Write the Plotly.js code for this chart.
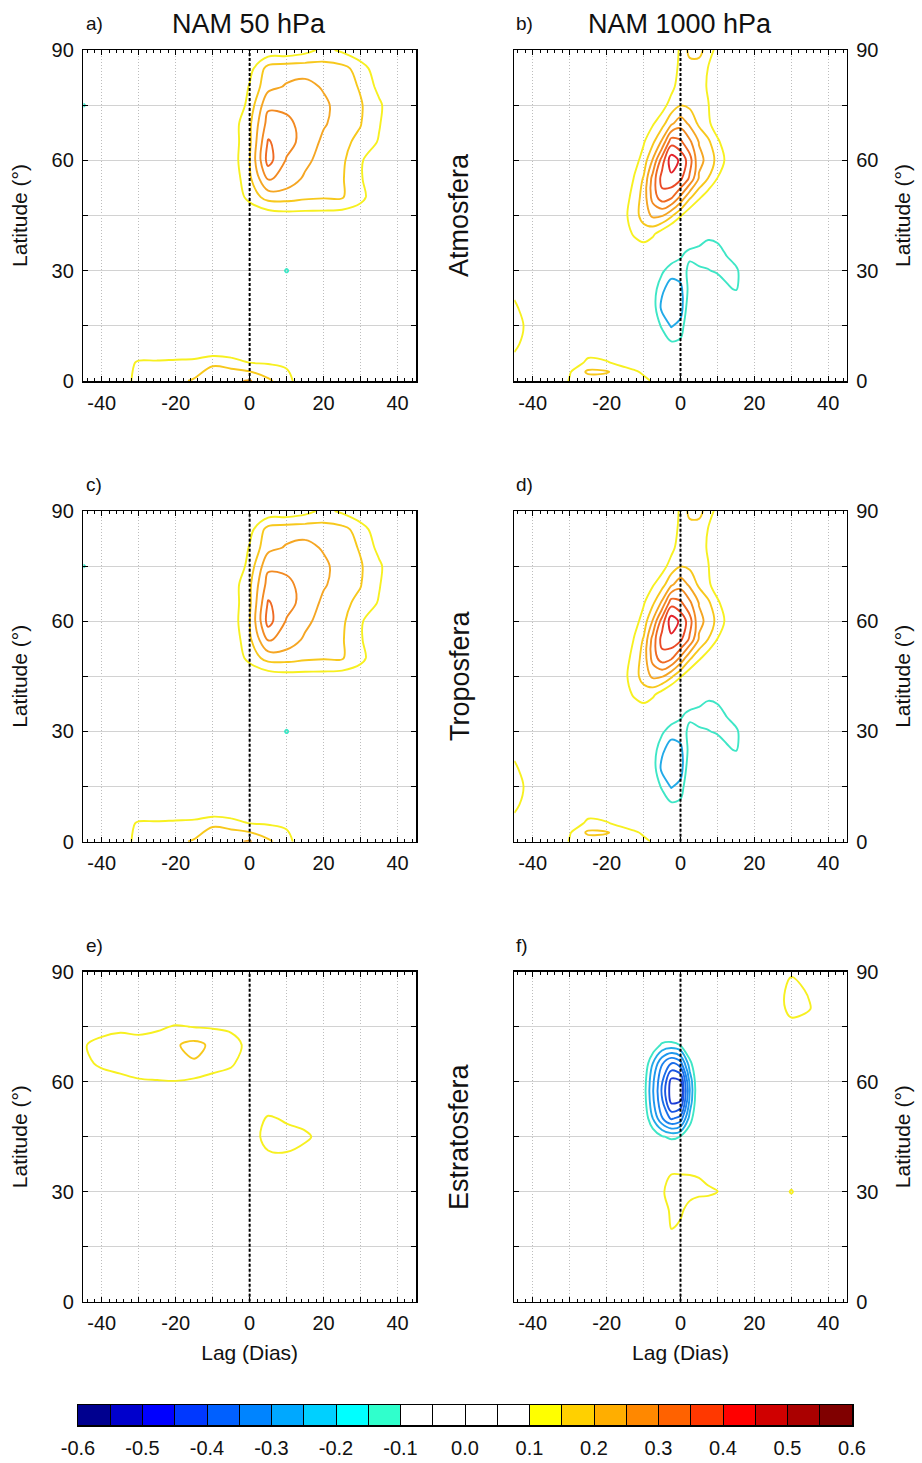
<!DOCTYPE html>
<html><head><meta charset="utf-8">
<script src="https://cdn.plot.ly/plotly-3.0.1.min.js"></script>
<style>html,body{margin:0;padding:0;background:#fff;}#chart{width:922px;height:1463px;}</style>
</head><body><div id="chart"></div>
<script>
// ---------------- grid coordinates ----------------
const lagA = [-45,-40,-35,-30,-25,-20,-15,-10,-5,0,5,10,15,20,25,30,35,40,45];
const latA = [0,5,10,15,20,25,30,35,40,45,50,55,60,65,70,75,80,85,90];
const lagB = [-45,-40,-35,-30,-25,-20,-15,-12.5,-10,-7.5,-5,-2.5,0,2.5,5,7.5,10,12.5,15,20,25,30,35,40,45];
const latB = [0,2.5,5,10,15,20,25,30,35,40,45,50,55,60,65,70,75,80,85,90];

// ---------------- correlation fields (rows = latitude, cols = lag) ----------------
// a) NAM 50 hPa vs Atmosfera   (lagA x latA)
const namAtmos50 = [
 [0.02,0.04,0.07,0.12,0.13,0.14,0.155,0.17,0.19,0.205,0.16,0.12,0.06,0.02,0,0,0,0,0],
 [0.01,0.02,0.06,0.11,0.11,0.115,0.12,0.145,0.13,0.10,0.095,0.09,0.04,0.01,0,0,0,0,0],
 [0,0,0.01,0.02,0.02,0.02,0.02,0.02,0.02,0.02,0.02,0.01,0,0,0,0,0,0,0],
 [0,0,0,0,0,0,0,0,0,0,0,0,0,0,0,0,0,0,0],
 [0,0,0,0,0,0,0,0,0,0,0,0,0,0,0,0,0,0,0],
 [0,0,0,0,0,0,0,0,0,0,0,0,0,0,0,0,0,0,0],
 [0,0,0,0,0,0,0,0,0,0,0,-0.11,0,0,0,0,0,0,0],
 [0,0,0,0,0,0,0,0,0,0,0,0,0,0,0,0,0,0,0],
 [0,0,0,0,0,0,0,0,0,0,0,0,0,0,0,0,0,0,0],
 [0,0,0,0,0,0,0,0,0.02,0.05,0.07,0.08,0.08,0.08,0.075,0.06,0.03,0.01,0],
 [0,0,0,0,0.01,0.01,0.02,0.03,0.05,0.12,0.17,0.17,0.16,0.155,0.155,0.12,0.05,0.02,0],
 [0,0,0,0,0.01,0.02,0.03,0.04,0.06,0.14,0.255,0.235,0.19,0.16,0.155,0.105,0.06,0.03,0.01],
 [0,0,0,0,0.01,0.02,0.03,0.04,0.07,0.148,0.32,0.245,0.215,0.175,0.16,0.105,0.07,0.03,0.01],
 [0,0,0,0,0.01,0.02,0.03,0.04,0.07,0.14,0.305,0.27,0.23,0.19,0.16,0.14,0.095,0.04,0.02],
 [0,0,0,0,0.01,0.02,0.03,0.04,0.07,0.14,0.27,0.26,0.235,0.205,0.18,0.152,0.105,0.04,0.02],
 [-0.11,0,0,0,0.01,0.01,0.02,0.03,0.04,0.12,0.24,0.24,0.23,0.21,0.18,0.155,0.11,0.05,0.02],
 [0,0,0,0,0,0.01,0.01,0.02,0.03,0.105,0.185,0.205,0.215,0.195,0.175,0.145,0.085,0.04,0.01],
 [0,0,0,0,0,0,0.01,0.01,0.02,0.08,0.17,0.18,0.18,0.17,0.165,0.13,0.06,0.02,0],
 [0,0,0,0,0,0,0,0,0.01,0.03,0.06,0.06,0.08,0.115,0.09,0.05,0.02,0,0]
];
// b) NAM 1000 hPa vs Atmosfera   (lagB x latB)
const namAtmos1000 = [
 [0.06,0.03,0.04,0.105,0.12,0.12,0.12,0.12,0.115,0.095,0.06,0.03,0.01,0,0,0,0,0,0,0,0,0,0,0,0],
 [0.07,0.03,0.04,0.095,0.16,0.155,0.12,0.11,0.09,0.06,0.03,0.01,0,0,0,0,0,0,0,0,0,0,0,0,0],
 [0.08,0.03,0.02,0.07,0.11,0.105,0.08,0.06,0.04,0.02,-0.01,-0.03,-0.03,-0.01,0,0,0,0,0,0,0,0,0,0,0],
 [0.115,0.06,0.02,0.03,0.07,0.05,0.02,0.01,0,-0.02,-0.05,-0.09,-0.085,-0.03,-0.01,0,0,0,0,0,0,0,0,0,0],
 [0.13,0.07,0.02,0.01,0.02,0.01,0,-0.01,-0.02,-0.05,-0.11,-0.155,-0.13,-0.04,-0.02,-0.01,0,0,0,0,0,0,0,0,0],
 [0.11,0.06,0.02,0,0,0,0,-0.01,-0.03,-0.07,-0.165,-0.19,-0.18,-0.05,-0.05,-0.04,-0.04,-0.04,-0.05,-0.01,0,0,0,0,0],
 [0.085,0.04,0.01,0,0,0,0,-0.01,-0.02,-0.07,-0.14,-0.175,-0.165,-0.08,-0.07,-0.07,-0.075,-0.09,-0.105,-0.02,0,0,0,0,0],
 [0.04,0.02,0,0,0,0,0,0,0,-0.04,-0.09,-0.13,-0.12,-0.09,-0.095,-0.098,-0.105,-0.12,-0.11,-0.03,0,0,0,0,0],
 [0.01,0,0,0,0,0,0.03,0.05,0.07,0.05,0.02,-0.05,-0.09,-0.11,-0.115,-0.12,-0.115,-0.095,-0.07,-0.02,0,0,0,0,0],
 [0,0,0,0,0,0.02,0.07,0.11,0.125,0.11,0.07,0.03,0.01,-0.05,-0.07,-0.09,-0.085,-0.06,-0.03,0,0,0,0,0,0],
 [0,0,0,0,0.01,0.03,0.09,0.13,0.17,0.21,0.205,0.16,0.105,0.06,0.03,0.01,0,0,0,0,0,0,0,0,0],
 [0,0,0,0,0.01,0.02,0.08,0.12,0.17,0.27,0.33,0.31,0.24,0.16,0.11,0.07,0.04,0.02,0,0,0,0,0,0,0],
 [0,0,0,0,0.01,0.02,0.05,0.105,0.155,0.27,0.37,0.385,0.36,0.29,0.195,0.148,0.098,0.07,0.04,0.02,0,0,0,0,0],
 [0,0,0,0,0.01,0.02,0.05,0.08,0.12,0.205,0.325,0.43,0.39,0.323,0.21,0.19,0.13,0.09,0.05,0.02,0.01,0,0,0,0],
 [0,0,0,0,0,0.01,0.02,0.04,0.095,0.14,0.21,0.33,0.31,0.26,0.198,0.16,0.11,0.07,0.04,0.02,0,0,0,0,0],
 [0,0,0,0,0,0,0.01,0.02,0.05,0.095,0.13,0.19,0.23,0.19,0.14,0.11,0.07,0.04,0.02,0.01,0,0,0,0,0],
 [0,0,0,0,0,0,0,0.01,0.02,0.04,0.08,0.12,0.148,0.14,0.12,0.102,0.07,0.03,0.01,0,0,0,0,0,0],
 [0,0,0,0,0,0,0,0,0.01,0.02,0.05,0.085,0.125,0.13,0.12,0.095,0.06,0.03,0.01,0,0,0,0,0,0],
 [0,0,0,0,0,0,0,0,0,0.01,0.03,0.07,0.115,0.13,0.13,0.098,0.05,0.02,0,0,0,0,0,0,0],
 [0,0,0,0,0,0,0,0,0,0.01,0.02,0.06,0.11,0.165,0.165,0.13,0.08,0.04,0.01,0,0,0,0,0,0]
];
// c) and d) Troposfera: practically the same patterns as the full atmosphere
const namTropo50 = namAtmos50.map(r => r.slice());
const namTropo1000 = namAtmos1000.map(r => r.slice());
// e) NAM 50 hPa vs Estratosfera   (lagA x latA)
const namStrato50 = [
 [0,0,0,0,0,0,0,0,0,0,0,0,0,0,0,0,0,0,0],
 [0,0,0,0,0,0,0,0,0,0,0,0,0,0,0,0,0,0,0],
 [0,0,0,0,0,0,0,0,0,0,0,0,0,0,0,0,0,0,0],
 [0,0,0,0,0,0,0,0,0,0,0,0,0,0,0,0,0,0,0],
 [0,0,0,0,0,0,0,0,0,0,0,0,0,0,0,0,0,0,0],
 [0,0,0,0,0,0,0,0,0,0,0,0,0,0,0,0,0,0,0],
 [0,0,0,0,0,0,0,0,0,0,0,0,0,0,0,0,0,0,0],
 [0,0,0,0,0,0,0,0,0,0,0.03,0.04,0.02,0,0,0,0,0,0],
 [0,0,0,0,0,0,0,0,0,0.03,0.09,0.095,0.06,0.02,0,0,0,0,0],
 [0,0,0,0,0,0,0,0,0.02,0.06,0.13,0.125,0.12,0.06,0.02,0,0,0,0],
 [0,0,0,0,0,0,0,0,0.03,0.05,0.11,0.09,0.06,0.03,0,0,0,0,0],
 [0.01,0.02,0.03,0.04,0.04,0.04,0.04,0.03,0.03,0.02,0.04,0.03,0.01,0,0,0,0,0,0],
 [0.03,0.06,0.08,0.095,0.097,0.098,0.09,0.07,0.065,0.03,0.01,0,0,0,0,0,0,0,0],
 [0.08,0.115,0.125,0.125,0.13,0.14,0.145,0.135,0.11,0.06,0.02,0,0,0,0,0,0,0,0],
 [0.095,0.12,0.13,0.125,0.13,0.145,0.165,0.14,0.12,0.085,0.03,0,0,0,0,0,0,0,0],
 [0.04,0.075,0.085,0.08,0.09,0.105,0.098,0.095,0.09,0.05,0.01,0,0,0,0,0,0,0,0],
 [0.01,0.02,0.03,0.03,0.03,0.04,0.03,0.03,0.02,0.01,0,0,0,0,0,0,0,0,0],
 [0,0,0,0,0,0,0,0,0,0,0,0,0,0,0,0,0,0,0],
 [0,0,0,0,0,0,0,0,0,0,0,0,0,0,0,0,0,0,0]
];
// f) NAM 1000 hPa vs Estratosfera   (lagB x latA)
const namStrato1000 = [
 [0,0,0,0,0,0,0,0,0,0,0,0,0,0,0,0,0,0,0,0,0,0,0,0,0],
 [0,0,0,0,0,0,0,0,0,0,0,0,0,0,0,0,0,0,0,0,0,0,0,0,0],
 [0,0,0,0,0,0,0,0,0,0,0,0,0,0,0,0,0,0,0,0,0,0,0,0,0],
 [0,0,0,0,0,0,0,0,0,0,0.02,0.04,0.03,0.01,0,0,0,0,0,0,0,0,0,0,0],
 [0,0,0,0,0,0,0,0,0,0.01,0.05,0.102,0.09,0.05,0.03,0.02,0,0,0,0,0,0,0,0,0],
 [0,0,0,0,0,0,0,0,0,0.02,0.06,0.115,0.11,0.08,0.06,0.05,0.04,0.02,0,0,0,0.03,0,0,0],
 [0,0,0,0,0,0,0,0,0,0.03,0.09,0.13,0.13,0.12,0.115,0.115,0.105,0.05,0.02,0,0.02,0.108,0.02,0,0],
 [0,0,0,0,0,0,0,0,0,0.03,0.08,0.098,0.098,0.098,0.095,0.07,0.04,0.02,0,0,0,0.03,0,0,0],
 [0,0,0,0,0,0,0,0,0,-0.01,-0.02,-0.026,-0.02,-0.01,0,0,0,0,0,0,0,0,0,0,0],
 [0,0,0,0,0,0,0,0,-0.02,-0.06,-0.095,-0.112,-0.098,-0.05,-0.01,0,0,0,0,0,0,0,0,0,0],
 [0,0,0,0,0,0,0,0,-0.05,-0.15,-0.245,-0.309,-0.28,-0.13,-0.02,0,0,0,0,0,0,0,0,0,0],
 [0,0,0,0,0,0,0,-0.02,-0.07,-0.19,-0.295,-0.42,-0.41,-0.19,-0.03,0,0,0,0,0,0,0,0,0,0],
 [0,0,0,0,0,0,0,-0.02,-0.07,-0.19,-0.295,-0.42,-0.41,-0.19,-0.03,0,0,0,0,0,0,0,0,0,0],
 [0,0,0,0,0,0,0,0,-0.05,-0.15,-0.245,-0.305,-0.27,-0.12,-0.02,0,0,0,0,0,0,0,0,0,0],
 [0,0,0,0,0,0,0,0,-0.02,-0.06,-0.11,-0.12,-0.098,-0.03,0,0,0,0,0,0,0,0,0,0,0],
 [0,0,0,0,0,0,0,0,0,0,-0.01,0,0,0,0,0,0,0,0,0,0,0.07,0.05,0,0],
 [0,0,0,0,0,0,0,0,0,0,0,0,0,0,0,0,0,0,0,0,0.04,0.13,0.105,0.02,0],
 [0,0,0,0,0,0,0,0,0,0,0,0,0,0,0,0,0,0,0,0,0.05,0.125,0.09,0.02,0],
 [0,0,0,0,0,0,0,0,0,0,0,0,0,0,0,0,0,0,0,0,0.03,0.09,0.05,0,0]
];

// ---------------- contour levels / colour table ----------------
const levelValues = [-0.4,-0.35,-0.3,-0.25,-0.2,-0.15,-0.1,0.1,0.15,0.2,0.25,0.3,0.35,0.4];
const levelColors = ['#1c3ed6','#1a56e2','#1a6eea','#1c84ee','#1e98ee','#22aae8','#3ee6c6',
                     '#f7f020','#f7c81c','#f5a623','#f28a22','#ef6a24','#ea4a26','#e3232b'];
const cbEdges = [-0.6,-0.55,-0.5,-0.45,-0.4,-0.35,-0.3,-0.25,-0.2,-0.15,-0.1,-0.05,0,0.05,0.1,0.15,0.2,0.25,0.3,0.35,0.4,0.45,0.5,0.55,0.6];
const cbColors = ['#00008f','#0000cc','#0000ff','#0038ff','#0060ff','#0084ff','#00a8ff','#00d0ff','#00ffff','#30ffcc',
                  '#ffffff','#ffffff','#ffffff','#ffffff',
                  '#ffff00','#ffd000','#ffae00','#ff8800','#ff6200','#ff3800','#ff0000','#d00000','#aa0000','#800000'];
const lagTicks = [-40,-30,-20,-10,0,10,20,30,40];
const lagTickText = ['-40','','-20','','0','','20','','40'];
const latTicks = [0,15,30,45,60,75,90];
const latTickText = ['0','','30','','60','','90'];
const zeroLag = [0,0];
const latSpan = [0,90];

const panels = [
  {x: lagA, y: latA, z: namAtmos50,   xa: 'x',  ya: 'y'},
  {x: lagB, y: latB, z: namAtmos1000, xa: 'x2', ya: 'y2'},
  {x: lagA, y: latA, z: namTropo50,   xa: 'x3', ya: 'y3'},
  {x: lagB, y: latB, z: namTropo1000, xa: 'x4', ya: 'y4'},
  {x: lagA, y: latA, z: namStrato50,  xa: 'x5', ya: 'y5'},
  {x: lagB, y: latA, z: namStrato1000,xa: 'x6', ya: 'y6'}
];

const traces = [];
panels.forEach(p => {
  levelValues.forEach((lv, i) => {
    traces.push({
      type: 'contour', x: p.x, y: p.y, z: p.z, xaxis: p.xa, yaxis: p.ya,
      autocontour: false, contours: {start: lv, end: lv, size: 0.05, coloring: 'none'},
      line: {color: levelColors[i], width: 1.9, smoothing: 1},
      showscale: false, hoverinfo: 'skip', showlegend: false
    });
  });
  traces.push({
    type: 'scatter', mode: 'lines', x: zeroLag, y: latSpan, xaxis: p.xa, yaxis: p.ya,
    line: {color: '#000', width: 2, dash: '3px,2px'}, hoverinfo: 'skip', showlegend: false
  });
});
// colour bar as a heatmap strip
const cbIndex = cbColors.map((c, i) => i);
const cbScale = [];
cbColors.forEach((c, i) => { cbScale.push([i / cbColors.length, c]); cbScale.push([(i + 1) / cbColors.length, c]); });
traces.push({
  type: 'heatmap', x: cbEdges, y: [0, 1], z: [cbIndex], xaxis: 'x7', yaxis: 'y7',
  colorscale: cbScale, zmin: -0.5, zmax: cbColors.length - 0.5, showscale: false, hoverinfo: 'skip'
});

const FONT = 'Liberation Sans, Arial, Helvetica, sans-serif';
const LX = [83.3/922, 416/922], RX = [514.3/922, 846.7/922];
const R1 = [1-381/1463, 1-50/1463], R2 = [1-841.7/1463, 1-511/1463], R3 = [1-1301.7/1463, 1-971.7/1463];

function xAxis(domain, anchor, withTitle) {
  const ax = {
    domain: domain, anchor: anchor, range: [-45, 45], tickmode: 'array', tickvals: lagTicks, ticktext: lagTickText,
    ticks: 'inside', ticklen: 5, tickwidth: 1, tickcolor: '#000', showline: true, linecolor: '#000', linewidth: 1.5,
    mirror: 'allticks', showgrid: true, gridcolor: '#bdbdbd', griddash: '1px,2px', gridwidth: 1, zeroline: false,
    minor: {dtick: 2, tick0: 0, ticks: 'inside', ticklen: 3, tickcolor: '#000', tickwidth: 1, showgrid: false},
    tickfont: {size: 20, color: '#111', family: FONT}, ticklabelstandoff: 3, fixedrange: true
  };
  if (withTitle) ax.title = {text: 'Lag (Dias)', font: {size: 21, color: '#111', family: FONT}, standoff: 12};
  return ax;
}
function yAxis(domain, anchor, side) {
  return {
    domain: domain, anchor: anchor, side: side, range: [0, 90], tickmode: 'array', tickvals: latTicks, ticktext: latTickText,
    ticks: 'inside', ticklen: 5, tickwidth: 1, tickcolor: '#000', showline: true, linecolor: '#000', linewidth: 1.5,
    mirror: 'allticks', showgrid: true, gridcolor: '#d2d2d2', gridwidth: 1, zeroline: false,
    tickfont: {size: 20, color: '#111', family: FONT}, ticklabelstandoff: 4, fixedrange: true,
    title: {text: 'Latitude (°)', font: {size: 21, color: '#111', family: FONT}, standoff: 18}
  };
}

function ann(text, xpx, ypx, size, opts) {
  return Object.assign({text: text, xref: 'paper', yref: 'paper', x: xpx/922, y: 1 - ypx/1463,
    showarrow: false, font: {size: size, color: '#111', family: FONT}, xanchor: 'center', yanchor: 'middle'}, opts || {});
}

const layout = {
  width: 922, height: 1463, margin: {l: 0, r: 0, t: 0, b: 0},
  paper_bgcolor: '#fff', plot_bgcolor: '#fff', showlegend: false,
  font: {family: FONT, color: '#111'},
  xaxis: xAxis(LX, 'y', false),  yaxis: yAxis(R1, 'x', 'left'),
  xaxis2: xAxis(RX, 'y2', false), yaxis2: yAxis(R1, 'x2', 'right'),
  xaxis3: xAxis(LX, 'y3', false), yaxis3: yAxis(R2, 'x3', 'left'),
  xaxis4: xAxis(RX, 'y4', false), yaxis4: yAxis(R2, 'x4', 'right'),
  xaxis5: xAxis(LX, 'y5', true),  yaxis5: yAxis(R3, 'x5', 'left'),
  xaxis6: xAxis(RX, 'y6', true),  yaxis6: yAxis(R3, 'x6', 'right'),
  xaxis7: {domain: [78/922, 852/922], anchor: 'y7', range: [-0.6, 0.6], tickmode: 'array', tickvals: cbEdges,
           ticktext: cbEdges.map((v, i) => i % 2 === 0 ? v.toFixed(1) : ''), ticks: 'inside', ticklen: 20,
           tickcolor: '#000', tickwidth: 1, showline: true, linecolor: '#000', linewidth: 1.5, mirror: true,
           layer: 'above traces', showgrid: false, zeroline: false, tickfont: {size: 20, color: '#111', family: FONT},
           ticklabelstandoff: 4, fixedrange: true},
  yaxis7: {domain: [1-1425/1463, 1-1405/1463], anchor: 'x7', range: [0, 1], showline: true, linecolor: '#000',
           linewidth: 1.5, mirror: true, showticklabels: false, ticks: '', showgrid: false, zeroline: false, fixedrange: true},
  annotations: [
    ann('a)', 84, 23, 19, {xanchor: 'left'}),
    ann('NAM 50 hPa', 249, 24, 27),
    ann('b)', 514, 23, 19, {xanchor: 'left'}),
    ann('NAM 1000 hPa', 680, 24, 27),
    ann('c)', 84, 484, 19, {xanchor: 'left'}),
    ann('d)', 514, 484, 19, {xanchor: 'left'}),
    ann('e)', 84, 945, 19, {xanchor: 'left'}),
    ann('f)', 514, 945, 19, {xanchor: 'left'}),
    ann('Atmosfera', 459, 215, 27, {textangle: -90}),
    ann('Troposfera', 460, 676, 27, {textangle: -90}),
    ann('Estratosfera', 459, 1137, 27, {textangle: -90})
  ]
};

Plotly.newPlot('chart', traces, layout, {staticPlot: true, displayModeBar: false});
</script></body></html>
